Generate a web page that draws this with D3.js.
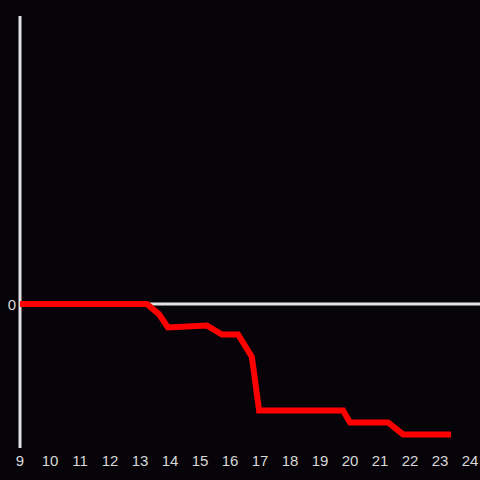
<!DOCTYPE html>
<html>
<head>
<meta charset="utf-8">
<script src="https://cdn.jsdelivr.net/npm/d3@7"></script>
<style>
  html, body { margin: 0; padding: 0; background: #060409; }
  text { font-family: "Liberation Sans", Arial, sans-serif; }
</style>
</head>
<body>
<svg id="chart" width="480" height="480"></svg>
<script>
// hours of the day and the running value at each point
const hours = [9, 13.23, 13.63, 13.93, 15.23, 15.73, 16.27, 16.73, 16.97, 19.77, 20.0, 21.27, 21.77, 23.37];
const values = [0, 0, -0.07, -0.163, -0.149, -0.212, -0.212, -0.368, -0.74, -0.74, -0.823, -0.823, -0.906, -0.906];
const xTicks = d3.range(9, 25);
const yTicks = [0];

const width = 480;
const height = 480;
const axisColor = '#e2e2e2';
const labelColor = '#d8d8d8';

const svg = d3.select('#chart');

svg.append('rect')
  .attr('width', width)
  .attr('height', height)
  .attr('fill', '#060409');

const x = d3.scaleLinear().domain([9, 24]).range([20, 470]);
const y = d3.scaleLinear().domain([-1, 2]).range([448, 16]);

// zero line across the plot
svg.append('line')
  .attr('x1', x(9))
  .attr('x2', width)
  .attr('y1', y(0))
  .attr('y2', y(0))
  .style('stroke', axisColor)
  .style('stroke-width', 3);

// vertical axis line
svg.append('line')
  .attr('x1', x(9))
  .attr('x2', x(9))
  .attr('y1', y(2))
  .attr('y2', y(-1))
  .style('stroke', axisColor)
  .style('stroke-width', 3);

// the series
const points = hours.map((h, i) => [h, values[i]]);
const line = d3.line()
  .x(d => x(d[0]))
  .y(d => y(d[1]));

svg.append('path')
  .datum(points)
  .attr('d', line)
  .attr('fill', 'none')
  .style('stroke', '#ff0000')
  .style('stroke-width', 6)
  .style('stroke-linejoin', 'miter');

// tick labels
svg.append('g')
  .selectAll('text')
  .data(xTicks)
  .join('text')
  .attr('x', d => x(d))
  .attr('y', 466)
  .attr('text-anchor', 'middle')
  .style('fill', labelColor)
  .style('font-size', '15px')
  .text(d => d);

svg.append('g')
  .selectAll('text')
  .data(yTicks)
  .join('text')
  .attr('x', 16)
  .attr('y', y(0) + 6)
  .attr('text-anchor', 'end')
  .style('fill', labelColor)
  .style('font-size', '15px')
  .text(d => d);
</script>
</body>
</html>
